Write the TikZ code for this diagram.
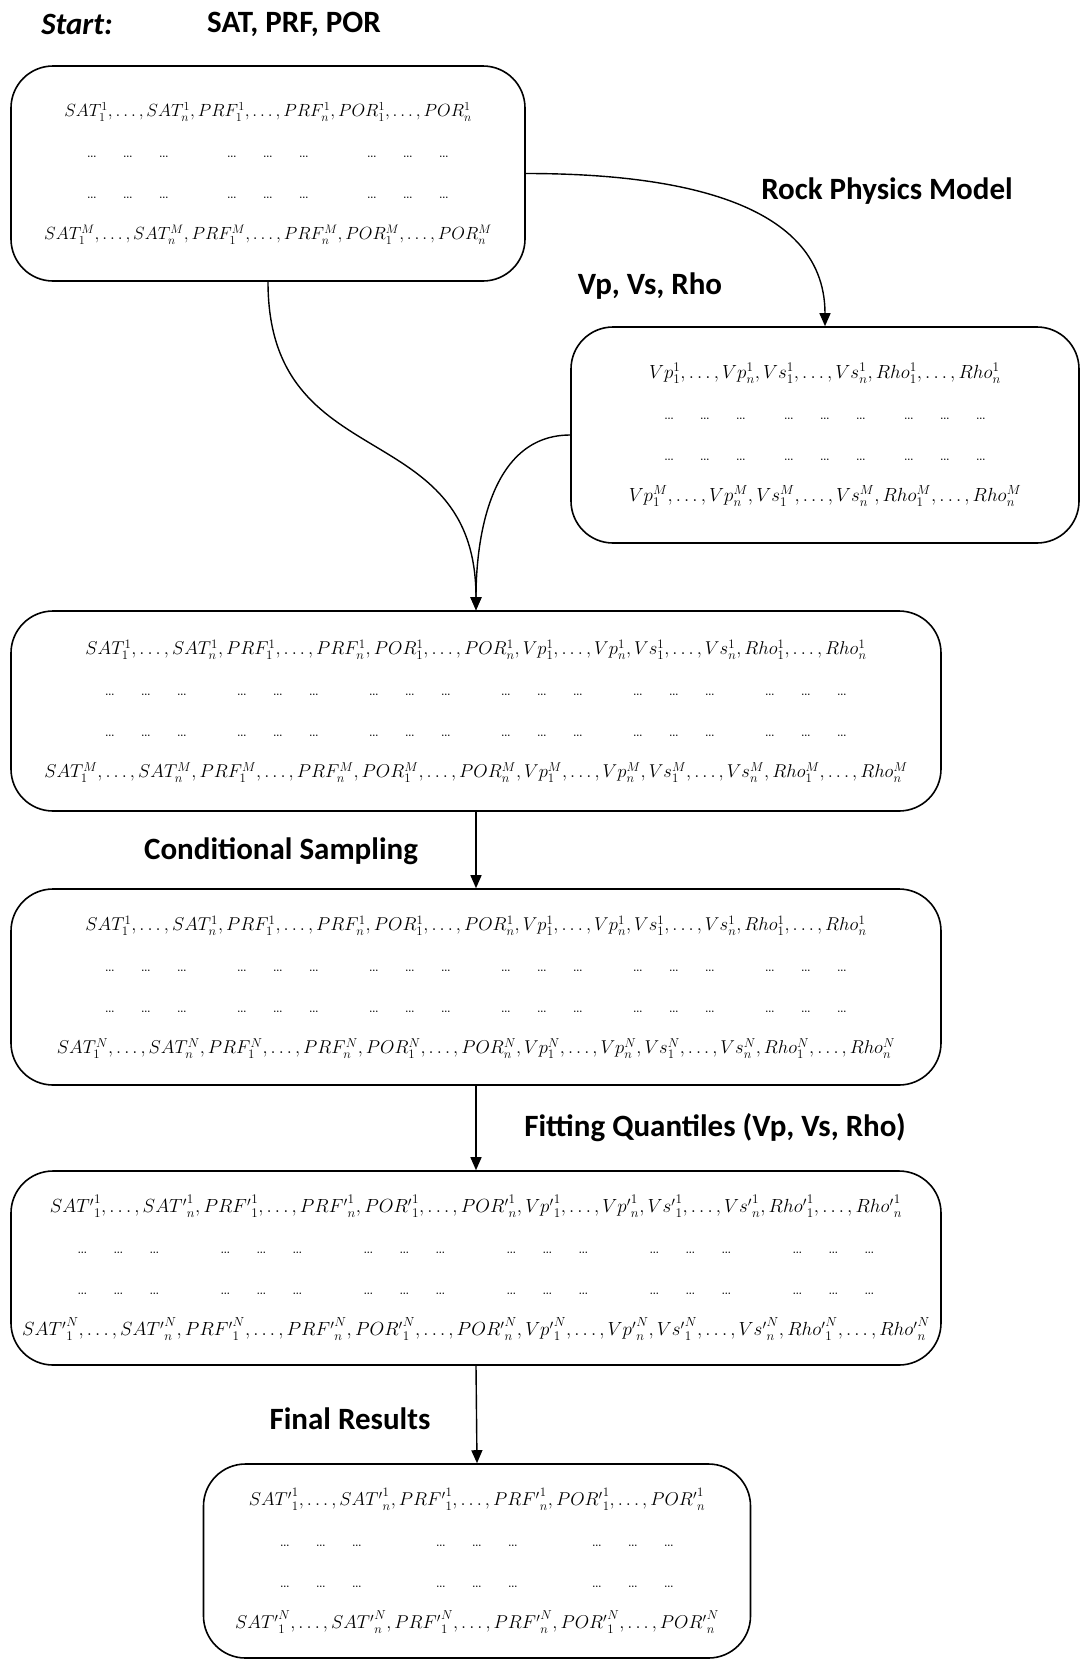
\documentclass[tikz,border=0pt]{standalone}
\usepackage[no-math]{fontspec}
\newfontfamily\lblfont{Carlito}
\usetikzlibrary{arrows.meta}
\newcommand{\sq}[2]{#1_1^{#2},\dots,#1_n^{#2}}
\newcommand{\rw}[2][1.075]{\scalebox{#1}{$#2$}}
\newcommand{\dt}{\makebox[36pt]{\fontsize{18}{18}\selectfont\ldots}}
\newcommand{\dgrp}{\dt\dt\dt}
\newcommand{\drow}[2]{\dgrp\foreach \k in {2,...,#1}{\hspace{#2}\dgrp}}

\begin{document}
\begin{tikzpicture}[x=1pt,y=1pt,
    box/.style={draw,line width=1.6pt,rounded corners=42pt,align=center,
      inner sep=0pt,font=\fontsize{17.28}{41}\selectfont},
    lbl/.style={font=\lblfont\bfseries\fontsize{31}{36}\selectfont},
    arr/.style={line width=1.4pt,-{Triangle[length=13pt,width=11pt]}}]
    \useasboundingbox (0,0) rectangle (1081,-1663);
    \node[lbl] (st) at (77,-24) {\itshape Start:};
    \node[lbl] (in) at (294,-24) {SAT, PRF, POR};
    \node[box,minimum width=514pt,minimum height=215pt] (pr) at (268,-173.5)
    {\rw[1.02]{\sq{SAT}{1},\sq{PRF}{1},\sq{POR}{1}}\\ \drow{3}{32pt}\\ \drow{3}{32pt}\\
     \rw[1.02]{\sq{SAT}{M},\sq{PRF}{M},\sq{POR}{M}}};
    \node[box,minimum width=508pt,minimum height=216pt] (el) at (825,-435)
    {\rw[1.1]{\sq{Vp}{1},\sq{Vs}{1},\sq{Rho}{1}}\\ \drow{3}{12pt}\\ \drow{3}{12pt}\\
     \rw[1.1]{\sq{Vp}{M},\sq{Vs}{M},\sq{Rho}{M}}};
    \node[box,minimum width=930pt,minimum height=200pt] (jt) at (476,-711)
    {\rw{\sq{SAT}{1},\sq{PRF}{1},\sq{POR}{1},\sq{Vp}{1},\sq{Vs}{1},\sq{Rho}{1}}\\
     \drow{6}{24pt}\\ \drow{6}{24pt}\\
     \rw{\sq{SAT}{M},\sq{PRF}{M},\sq{POR}{M},\sq{Vp}{M},\sq{Vs}{M},\sq{Rho}{M}}};
    \node[box,minimum width=930pt,minimum height=196pt] (cs) at (476,-987)
    {\rw{\sq{SAT}{1},\sq{PRF}{1},\sq{POR}{1},\sq{Vp}{1},\sq{Vs}{1},\sq{Rho}{1}}\\
     \drow{6}{24pt}\\ \drow{6}{24pt}\\
     \rw{\sq{SAT}{N},\sq{PRF}{N},\sq{POR}{N},\sq{Vp}{N},\sq{Vs}{N},\sq{Rho}{N}}};
    \node[box,minimum width=930pt,minimum height=194pt] (fq) at (476,-1268)
    {\rw[1.1]{\sq{{SAT'}}{1},\sq{{PRF'}}{1},\sq{{POR'}}{1},\sq{{Vp'}}{1},\sq{{Vs'}}{1},\sq{{Rho'}}{1}}\\
     \drow{6}{35pt}\\ \drow{6}{35pt}\\
     \rw[1.1]{\sq{{SAT'}}{N},\sq{{PRF'}}{N},\sq{{POR'}}{N},\sq{{Vp'}}{N},\sq{{Vs'}}{N},\sq{{Rho'}}{N}}};
    \node[box,minimum width=547pt,minimum height=194pt] (rs) at (477,-1561)
    {\rw{\sq{{SAT'}}{1},\sq{{PRF'}}{1},\sq{{POR'}}{1}}\\ \drow{3}{48pt}\\ \drow{3}{48pt}\\
     \rw{\sq{{SAT'}}{N},\sq{{PRF'}}{N},\sq{{POR'}}{N}}};
    \node[lbl] (rp) at (887,-191) {Rock Physics Model};
    \node[lbl] (ev) at (650,-286) {Vp, Vs, Rho};
    \node[lbl] (cl) at (281,-851) {Conditional Sampling};
    \node[lbl] (ql) at (715,-1128) {Fitting Quantiles (Vp, Vs, Rho)};
    \node[lbl] (fl) at (350,-1419) {Final Results};
    \draw[arr] (pr.east) to[out=0,in=90] (el.north);
    \draw[arr] (pr.south) to[out=-90,in=90,looseness=1.3] (jt.north);
    \draw[arr] (el.west) to[out=180,in=90] (jt.north);
    \draw[arr] (jt.south) -- (cs.north);
    \draw[arr] (cs.south) -- (fq.north);
    \draw[arr] (fq.south) -- (rs.north);
\end{tikzpicture}
\end{document}
